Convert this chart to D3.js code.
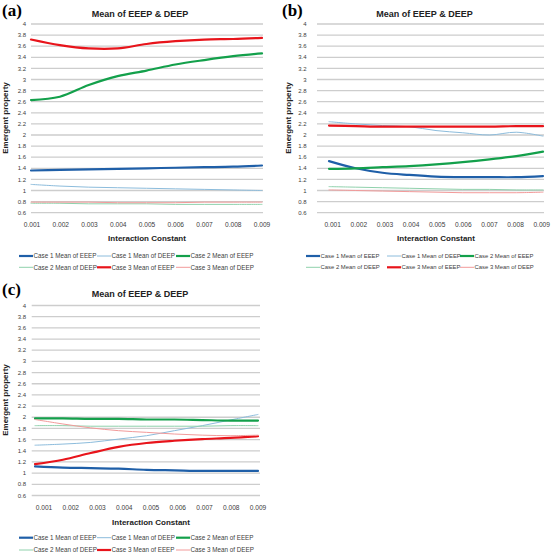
<!DOCTYPE html>
<html><head><meta charset="utf-8">
<script src="https://cdn.jsdelivr.net/npm/d3@7"></script>
<style>html,body{margin:0;padding:0;background:#fff;} svg{display:block}</style>
</head><body><svg id="c" width="558" height="554"></svg>
<script>
// ---------- DATA ----------
const xCategories = ["0.001","0.002","0.003","0.004","0.005","0.006","0.007","0.008","0.009"];
const yTickValues = [0.6,0.8,1,1.2,1.4,1.6,1.8,2,2.2,2.4,2.6,2.8,3,3.2,3.4,3.6,3.8,4];
const seriesNames = ["Case 1 Mean of EEEP","Case 1 Mean of DEEP","Case 2 Mean of EEEP",
                     "Case 2 Mean of DEEP","Case 3 Mean of EEEP","Case 3 Mean of DEEP"];
const panelTitles = ["Mean of EEEP & DEEP","Mean of EEEP & DEEP","Mean of EEEP & DEEP"];
const panelLetters = ["(a)","(b)","(c)"];

// Panel (a)
const a_case1EEEP = [1.36,1.37,1.38,1.39,1.40,1.41,1.42,1.43,1.45];
const a_case1DEEP = [1.11,1.08,1.06,1.05,1.04,1.03,1.02,1.01,1.00];
const a_case2EEEP = [2.63,2.69,2.90,3.06,3.16,3.27,3.35,3.42,3.47];
const a_case2DEEP = [0.77,0.77,0.76,0.76,0.76,0.75,0.75,0.75,0.75];
const a_case3EEEP = [3.72,3.62,3.56,3.56,3.64,3.69,3.72,3.73,3.75];
const a_case3DEEP = [0.79,0.79,0.79,0.78,0.78,0.78,0.79,0.79,0.79];

// Panel (b)
const b_case1EEEP = [1.53,1.40,1.32,1.28,1.25,1.24,1.24,1.24,1.26];
const b_case1DEEP = [2.24,2.20,2.17,2.15,2.08,2.04,2.00,2.05,1.98];
const b_case2EEEP = [1.39,1.40,1.42,1.44,1.47,1.51,1.56,1.62,1.70];
const b_case2DEEP = [1.07,1.06,1.05,1.04,1.03,1.02,1.02,1.01,1.01];
const b_case3EEEP = [2.17,2.16,2.15,2.15,2.15,2.15,2.15,2.16,2.16];
const b_case3DEEP = [1.01,1.00,0.99,0.98,0.97,0.96,0.96,0.96,0.97];

// Panel (c)
const c_case1EEEP = [1.12,1.10,1.09,1.08,1.06,1.05,1.04,1.04,1.04];
const c_case1DEEP = [1.50,1.52,1.55,1.61,1.67,1.76,1.85,1.95,2.05];
const c_case2EEEP = [1.98,1.98,1.97,1.97,1.96,1.96,1.95,1.94,1.94];
const c_case2DEEP = [1.85,1.85,1.84,1.84,1.84,1.84,1.84,1.85,1.85];
const c_case3EEEP = [1.16,1.24,1.36,1.47,1.54,1.58,1.61,1.63,1.66];
const c_case3DEEP = [1.96,1.88,1.81,1.76,1.73,1.70,1.68,1.67,1.68];

// ---------- STYLE ----------
const seriesColors = ["#1f5fa8","#8cbcdc","#13a04b","#8fd1ac","#e8141b","#f29a9a"];
const seriesWidths = [2.2,1,2.2,1,2.2,1];

const panels = [
  {series:[a_case1EEEP,a_case1DEEP,a_case2EEEP,a_case2DEEP,a_case3EEEP,a_case3DEEP],
   gridX:[31,263], dataX:[31,262], labelX:[32,262], yRange:[212.7,24],
   letter:[2,16], title:[140,17], yLab:[8,118], yTickRight:26, xTickY:226.5,
   xTitle:[147,241], legY:[256,267.3], legCols:[19,97,176], legFont:6.3},
  {series:[b_case1EEEP,b_case1DEEP,b_case2EEEP,b_case2DEEP,b_case3EEEP,b_case3DEEP],
   gridX:[317,544], dataX:[329,543], labelX:[332.7,541.7], yRange:[212.7,24],
   letter:[282,16], title:[424.5,17], yLab:[291,118], yTickRight:306.5, xTickY:226.5,
   xTitle:[436,241], legY:[256,267.3], legCols:[306,387,460], legFont:5.9},
  {series:[c_case1EEEP,c_case1DEEP,c_case2EEEP,c_case2DEEP,c_case3EEEP,c_case3DEEP],
   gridX:[31.7,260], dataX:[35,258], labelX:[44,258], yRange:[495.5,305.5],
   letter:[2,295], title:[140,297], yLab:[8,400], yTickRight:26, xTickY:510,
   xTitle:[151,524.5], legY:[537.7,550], legCols:[19,97,176], legFont:6.3}
];

const svg = d3.select("#c");
const sans = "'Liberation Sans', Arial, sans-serif";

panels.forEach((p, pi) => {
  const g = svg.append("g");
  const y = d3.scaleLinear().domain([0.6, 4]).range(p.yRange);
  const x = d3.scalePoint().domain(xCategories).range(p.dataX);
  const xl = d3.scalePoint().domain(xCategories).range(p.labelX);

  // gridlines
  g.selectAll("line.grid").data(yTickValues).enter().append("line")
    .attr("x1", p.gridX[0]).attr("x2", p.gridX[1])
    .attr("y1", d => y(d)).attr("y2", d => y(d))
    .attr("stroke", "#cdcdcd").attr("stroke-width", 1.3);

  // y tick labels
  g.selectAll("text.yt").data(yTickValues).enter().append("text")
    .attr("x", p.yTickRight).attr("y", d => y(d)).attr("dy", "0.35em")
    .attr("text-anchor", "end").attr("font-family", sans).attr("font-size", 6)
    .attr("fill", "#404040").text(d => String(d));

  // x tick labels
  g.selectAll("text.xt").data(xCategories).enter().append("text")
    .attr("x", d => xl(d)).attr("y", p.xTickY)
    .attr("text-anchor", "middle").attr("font-family", sans).attr("font-size", 6.6)
    .attr("fill", "#404040").text(d => d);

  // lines
  const line = d3.line().x((d, i) => x(xCategories[i])).y(d => y(d))
    .curve(d3.curveCatmullRom.alpha(0.5));
  p.series.forEach((s, si) => {
    g.append("path").datum(s).attr("d", line).attr("fill", "none")
      .attr("stroke", seriesColors[si]).attr("stroke-width", seriesWidths[si])
      .attr("stroke-linejoin", "round").attr("stroke-linecap", "round");
  });

  // titles
  g.append("text").attr("x", p.title[0]).attr("y", p.title[1])
    .attr("text-anchor", "middle").attr("font-family", sans).attr("font-weight", "bold")
    .attr("font-size", 9).attr("fill", "#222").text(panelTitles[pi]);
  g.append("text").attr("x", p.letter[0]).attr("y", p.letter[1])
    .attr("font-family", "'Liberation Serif','Times New Roman',serif").attr("font-weight", "bold")
    .attr("font-size", 17).attr("fill", "#000").text(panelLetters[pi]);
  g.append("text").attr("transform", `translate(${p.yLab[0]},${p.yLab[1]}) rotate(-90)`)
    .attr("text-anchor", "middle").attr("font-family", sans).attr("font-weight", "bold")
    .attr("font-size", 8).attr("fill", "#222").text("Emergent property");
  g.append("text").attr("x", p.xTitle[0]).attr("y", p.xTitle[1])
    .attr("text-anchor", "middle").attr("font-family", sans).attr("font-weight", "bold")
    .attr("font-size", 8).attr("fill", "#222").text("Interaction Constant");

  // legend
  seriesNames.forEach((name, si) => {
    const row = Math.floor(si / 3), col = si % 3;
    const lx = p.legCols[col], ly = p.legY[row];
    g.append("line").attr("x1", lx).attr("x2", lx + 14).attr("y1", ly).attr("y2", ly)
      .attr("stroke", seriesColors[si]).attr("stroke-width", seriesWidths[si]);
    g.append("text").attr("x", lx + 14.5).attr("y", ly).attr("dy", "0.35em")
      .attr("font-family", sans).attr("font-size", p.legFont).attr("fill", "#404040").text(name);
  });
});
</script></body></html>
